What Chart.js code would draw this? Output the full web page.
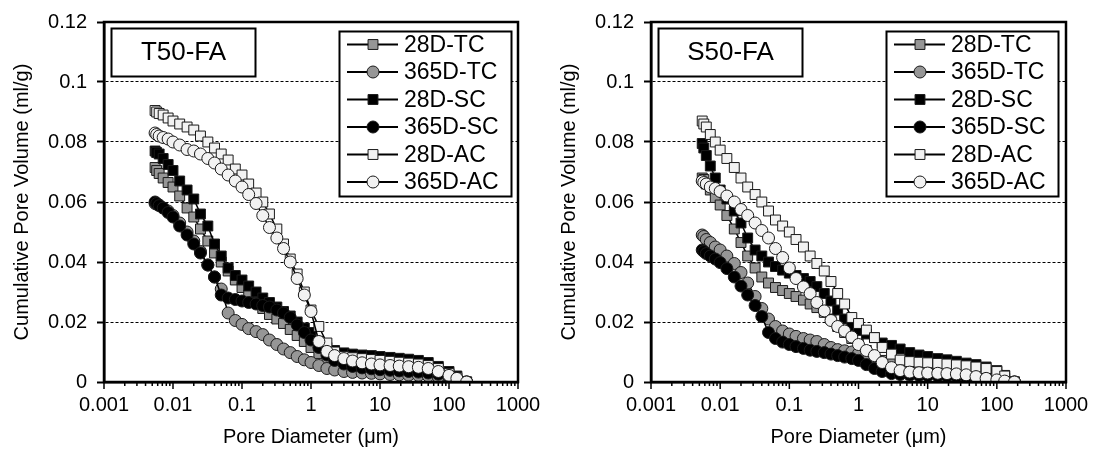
<!DOCTYPE html>
<html>
<head>
<meta charset="utf-8">
<title>Cumulative pore volume - T50-FA / S50-FA</title>
<script src="https://cdn.jsdelivr.net/npm/chart.js@4/dist/chart.umd.min.js"></script>
<style>
  html, body { margin: 0; padding: 0; background: #fff; }
  #wrap { display: flex; width: 1095px; height: 454px; }
  canvas { display: block; }
</style>
</head>
<body>
<div id="wrap">
  <canvas id="left" width="547" height="454"></canvas>
  <canvas id="right" width="548" height="454"></canvas>
</div>
<script>
// pore diameters (um), shared by every curve
const DIAMETERS = [0.0055, 0.0058, 0.0063, 0.0072, 0.0085, 0.01, 0.0125, 0.016, 0.02, 0.025,
  0.032, 0.04, 0.05, 0.063, 0.08, 0.1, 0.125, 0.16, 0.2, 0.25,
  0.32, 0.4, 0.5, 0.63, 0.8, 1.0, 1.3, 1.7, 2.2, 3,
  4, 5.5, 7.5, 10, 14, 19, 26, 36, 50, 70,
  100, 130, 180];

const SERIES_NAMES = ['28D-TC', '365D-TC', '28D-SC', '365D-SC', '28D-AC', '365D-AC'];
const PANEL_TITLES = ['T50-FA', 'S50-FA'];

// T50-FA, cumulative pore volume (ml/g)
const T50_28D_TC = [0.0715, 0.0705, 0.0695, 0.068, 0.0665, 0.065, 0.062, 0.058, 0.055, 0.051,
  0.047, 0.043, 0.040, 0.037, 0.034, 0.0315, 0.029, 0.0265, 0.0245, 0.0225,
  0.021, 0.0195, 0.0175, 0.0155, 0.0135, 0.0115, 0.0095, 0.0078, 0.0066, 0.0058,
  0.0053, 0.005, 0.0048, 0.0046, 0.0044, 0.0042, 0.004, 0.0038, 0.0035, 0.003,
  0.002, 0.0012, 0];
const T50_365D_TC = [0.0595, 0.0593, 0.059, 0.058, 0.057, 0.0555, 0.053, 0.050, 0.047, 0.0435,
  0.039, 0.035, 0.031, 0.023, 0.0205, 0.0192, 0.0178, 0.0168, 0.0158, 0.014,
  0.0125, 0.011, 0.0098, 0.0085, 0.0074, 0.0065, 0.0055, 0.0045, 0.004, 0.0035,
  0.0032, 0.003, 0.0029, 0.0027, 0.0025, 0.0024, 0.0023, 0.0022, 0.002, 0.0017,
  0.0013, 0.0008, 0];
const T50_28D_SC = [0.077, 0.0765, 0.076, 0.0745, 0.0725, 0.0705, 0.067, 0.064, 0.061, 0.056,
  0.052, 0.046, 0.042, 0.038, 0.0355, 0.034, 0.032, 0.030, 0.028, 0.0265,
  0.025, 0.0235, 0.022, 0.020, 0.018, 0.0165, 0.0135, 0.0115, 0.0105, 0.0097,
  0.0093, 0.009, 0.0088, 0.0085, 0.0082, 0.0079, 0.0076, 0.0072, 0.0065, 0.0052,
  0.0035, 0.002, 0];
const T50_365D_SC = [0.060, 0.0595, 0.0588, 0.058, 0.0565, 0.055, 0.052, 0.049, 0.046, 0.043,
  0.039, 0.035, 0.029, 0.028, 0.0275, 0.027, 0.0265, 0.026, 0.0255, 0.025,
  0.024, 0.023, 0.0215, 0.019, 0.0165, 0.014, 0.0115, 0.009, 0.0072, 0.006,
  0.0052, 0.0047, 0.0044, 0.0041, 0.0039, 0.0037, 0.0035, 0.0033, 0.003, 0.0026,
  0.0018, 0.001, 0];
const T50_28D_AC = [0.0905, 0.090, 0.0895, 0.089, 0.088, 0.087, 0.086, 0.085, 0.084, 0.082,
  0.080, 0.078, 0.076, 0.074, 0.071, 0.069, 0.066, 0.063, 0.060, 0.056,
  0.051, 0.046, 0.041, 0.036, 0.030, 0.024, 0.0185, 0.013, 0.010, 0.0085,
  0.0081, 0.0078, 0.0075, 0.0072, 0.0069, 0.0066, 0.0063, 0.006, 0.0055, 0.0045,
  0.0028, 0.0015, 0];
const T50_365D_AC = [0.083, 0.0825, 0.082, 0.0815, 0.081, 0.080, 0.079, 0.0775, 0.077, 0.076,
  0.0745, 0.073, 0.071, 0.069, 0.067, 0.065, 0.0625, 0.0595, 0.0555, 0.0515,
  0.048, 0.0445, 0.040, 0.0345, 0.029, 0.0235, 0.0135, 0.0102, 0.0088, 0.0078,
  0.007, 0.0064, 0.006, 0.0057, 0.0055, 0.0053, 0.0051, 0.0049, 0.0045, 0.0035,
  0.0022, 0.0012, 0];

// S50-FA, cumulative pore volume (ml/g)
const S50_28D_TC = [0.068, 0.0675, 0.066, 0.064, 0.0615, 0.059, 0.0555, 0.051, 0.0465, 0.042,
  0.038, 0.035, 0.033, 0.0315, 0.0305, 0.0295, 0.0285, 0.0273, 0.026, 0.0248,
  0.0232, 0.021, 0.0185, 0.0165, 0.0145, 0.0125, 0.0105, 0.0088, 0.0072, 0.0062,
  0.0058, 0.0055, 0.0053, 0.0051, 0.0049, 0.0047, 0.0045, 0.0042, 0.0038, 0.0032,
  0.0025, 0.0013, 0];
const S50_365D_TC = [0.049, 0.0485, 0.0475, 0.0465, 0.045, 0.044, 0.042, 0.0395, 0.0365, 0.033,
  0.0285, 0.0245, 0.021, 0.0185, 0.017, 0.016, 0.0152, 0.0145, 0.014, 0.0135,
  0.0125, 0.0115, 0.0108, 0.0104, 0.010, 0.0095, 0.0085, 0.0068, 0.0055, 0.0042,
  0.0034, 0.003, 0.0028, 0.0026, 0.0025, 0.0024, 0.0023, 0.0022, 0.002, 0.0017,
  0.0012, 0.0006, 0];
const S50_28D_SC = [0.0795, 0.078, 0.0755, 0.072, 0.068, 0.064, 0.061, 0.057, 0.053, 0.048,
  0.044, 0.042, 0.040, 0.0385, 0.0373, 0.0363, 0.0355, 0.0345, 0.0335, 0.0318,
  0.0295, 0.027, 0.024, 0.021, 0.0188, 0.0172, 0.016, 0.0148, 0.013, 0.0122,
  0.011, 0.0098, 0.009, 0.0085, 0.0078, 0.0074, 0.0069, 0.0063, 0.0058, 0.005,
  0.0038, 0.0022, 0];
const S50_365D_SC = [0.044, 0.0435, 0.0428, 0.042, 0.041, 0.0398, 0.0378, 0.035, 0.032, 0.029,
  0.0255, 0.0218, 0.0165, 0.0145, 0.0133, 0.0125, 0.0118, 0.0112, 0.0106, 0.0102,
  0.0098, 0.0093, 0.0088, 0.0083, 0.0078, 0.0072, 0.0058, 0.0045, 0.0035, 0.0028,
  0.0025, 0.0023, 0.0022, 0.0021, 0.002, 0.0019, 0.0018, 0.0017, 0.0015, 0.0012,
  0.0009, 0.0005, 0];
const S50_28D_AC = [0.087, 0.086, 0.085, 0.0825, 0.080, 0.0773, 0.0745, 0.0715, 0.068, 0.065,
  0.0625, 0.060, 0.057, 0.054, 0.052, 0.050, 0.0475, 0.045, 0.042, 0.0395,
  0.037, 0.0335, 0.0295, 0.026, 0.0215, 0.0195, 0.0173, 0.0148, 0.0115, 0.0093,
  0.0073, 0.0068, 0.0066, 0.0064, 0.0062, 0.006, 0.0057, 0.0054, 0.005, 0.0045,
  0.0035, 0.002, 0];
const S50_365D_AC = [0.067, 0.0665, 0.066, 0.065, 0.0645, 0.0635, 0.062, 0.060, 0.0575, 0.0555,
  0.053, 0.0505, 0.048, 0.0445, 0.0415, 0.038, 0.0345, 0.0317, 0.0295, 0.0265,
  0.0237, 0.0205, 0.0185, 0.017, 0.015, 0.0125, 0.0105, 0.0088, 0.0065, 0.0048,
  0.0038, 0.0033, 0.0031, 0.003, 0.0029, 0.0028, 0.0027, 0.0024, 0.0018, 0.0012,
  0.0007, 0.0003, 0];

// axis ticks
const X_TICK_VALUES = [0.001, 0.01, 0.1, 1, 10, 100, 1000];
const X_TICK_LABELS = ['0.001', '0.01', '0.1', '1', '10', '100', '1000'];
const Y_TICK_VALUES = [0, 0.02, 0.04, 0.06, 0.08, 0.1, 0.12];
const Y_TICK_LABELS = ['0', '0.02', '0.04', '0.06', '0.08', '0.1', '0.12'];

const FONT = '"Liberation Sans", Arial, sans-serif';

// marker look per series (same order as SERIES_NAMES)
const ESTILOS = [
  { shape: 'rect',   fill: '#969696' },
  { shape: 'circle', fill: '#969696' },
  { shape: 'rect',   fill: '#000000' },
  { shape: 'circle', fill: '#000000' },
  { shape: 'rect',   fill: '#f2f2f2' },
  { shape: 'circle', fill: '#f2f2f2' }
];

function radioDe(shape) {
  return shape === 'rect' ? 7 : 6;
}

// log ticks: 1..9 in each decade, labels only on the powers of ten
function ticksLog() {
  const out = [];
  for (let i = 0; i < X_TICK_VALUES.length - 1; i++) {
    for (let k = 1; k <= 9; k++) out.push(k * X_TICK_VALUES[i]);
  }
  out.push(X_TICK_VALUES[X_TICK_VALUES.length - 1]);
  return out;
}

function dibujarMarcador(ctx, shape, fill, x, y) {
  const r = radioDe(shape);
  ctx.fillStyle = fill;
  ctx.strokeStyle = '#1a1a1a';
  ctx.lineWidth = 1;
  ctx.beginPath();
  if (shape === 'rect') {
    const s = Math.SQRT1_2 * r;
    ctx.rect(x - s, y - s, 2 * s, 2 * s);
  } else {
    ctx.arc(x, y, r, 0, Math.PI * 2);
  }
  ctx.fill();
  ctx.stroke();
}

// frame, minor/major x ticks, panel label and legend box
const decoracion = {
  id: 'decoracion',
  afterDraw(chart, args, opts) {
    const { ctx, chartArea: a, scales: { x } } = chart;
    ctx.save();

    // x ticks
    ctx.strokeStyle = '#000';
    ctx.lineWidth = 1.5;
    x.ticks.forEach(t => {
      const lg = Math.log10(t.value);
      const mayor = Math.abs(lg - Math.round(lg)) < 1e-6;
      const px = x.getPixelForValue(t.value);
      ctx.beginPath();
      ctx.moveTo(px, a.bottom);
      ctx.lineTo(px, a.bottom + (mayor ? 7 : 4));
      ctx.stroke();
    });

    // plot frame
    ctx.lineWidth = 2.5;
    ctx.strokeRect(a.left, a.top, a.right - a.left, a.bottom - a.top);

    // panel title box
    ctx.lineWidth = 2;
    ctx.fillStyle = '#fff';
    ctx.fillRect(111.5, 28.5, 144, 48);
    ctx.strokeRect(111.5, 28.5, 144, 48);
    ctx.fillStyle = '#000';
    ctx.font = '26px ' + FONT;
    ctx.textAlign = 'center';
    ctx.textBaseline = 'middle';
    ctx.fillText(opts.titulo, 183.5, 53);

    // legend
    ctx.fillStyle = '#fff';
    ctx.fillRect(339.5, 31.5, 172, 165);
    ctx.strokeRect(339.5, 31.5, 172, 165);
    ctx.font = '23px ' + FONT;
    ctx.textAlign = 'left';
    SERIES_NAMES.forEach((nombre, i) => {
      const y = 44.5 + i * 27.5;
      ctx.strokeStyle = '#000';
      ctx.lineWidth = 2;
      ctx.beginPath();
      ctx.moveTo(347, y);
      ctx.lineTo(398, y);
      ctx.stroke();
      dibujarMarcador(ctx, ESTILOS[i].shape, ESTILOS[i].fill, 373, y);
      ctx.fillStyle = '#000';
      ctx.fillText(nombre, 404, y + 1);
    });

    ctx.restore();
  }
};

function crearGrafico(id, titulo, series) {
  const ctx = document.getElementById(id).getContext('2d');
  const datasets = series.map((valores, i) => ({
    label: SERIES_NAMES[i],
    data: DIAMETERS.map((d, j) => ({ x: d, y: valores[j] })),
    borderColor: '#000',
    borderWidth: 1.5,
    pointStyle: ESTILOS[i].shape,
    pointRadius: radioDe(ESTILOS[i].shape),
    pointBackgroundColor: ESTILOS[i].fill,
    pointBorderColor: '#1a1a1a',
    pointBorderWidth: 1,
    tension: 0,
    order: series.length - 1 - i // last series on top, like the original
  }));

  return new Chart(ctx, {
    type: 'line',
    data: { datasets },
    plugins: [decoracion],
    options: {
      responsive: false,
      animation: false,
      devicePixelRatio: 1,
      layout: { padding: { top: 22, right: 29, left: 0, bottom: 0 } },
      plugins: {
        legend: { display: false },
        tooltip: { enabled: false },
        decoracion: { titulo }
      },
      scales: {
        x: {
          type: 'logarithmic',
          min: 0.001,
          max: 1000,
          afterBuildTicks: scale => { scale.ticks = ticksLog().map(v => ({ value: v })); },
          afterFit: scale => { scale.height = 72; },
          ticks: {
            autoSkip: false,
            maxRotation: 0,
            minRotation: 0,
            padding: 4,
            color: '#000',
            font: { family: FONT, size: 20 },
            callback: v => {
              const k = X_TICK_VALUES.findIndex(t => Math.abs(t - v) < t * 1e-6);
              return k >= 0 ? X_TICK_LABELS[k] : '';
            }
          },
          grid: { display: true, drawOnChartArea: false, tickLength: 7, tickColor: 'rgba(0,0,0,0)' },
          border: { display: true, color: '#000', width: 2.5 },
          title: {
            display: true,
            text: 'Pore Diameter (μm)',
            color: '#000',
            font: { family: FONT, size: 20 },
            padding: { top: 0, bottom: 5 }
          }
        },
        y: {
          min: 0,
          max: 0.12,
          afterBuildTicks: scale => { scale.ticks = Y_TICK_VALUES.map(v => ({ value: v })); },
          afterFit: scale => { scale.width = 104; },
          ticks: {
            padding: 10,
            color: '#000',
            font: { family: FONT, size: 20 },
            callback: (v, i) => Y_TICK_LABELS[i]
          },
          grid: {
            color: '#000',
            lineWidth: 1,
            tickLength: 7,
            tickWidth: 2,
            tickColor: '#000',
            tickBorderDash: []
          },
          border: { display: true, color: '#000', width: 2.5, dash: [3, 2] },
          title: {
            display: true,
            text: 'Cumulative Pore Volume (ml/g)',
            color: '#000',
            font: { family: FONT, size: 20 },
            padding: { top: 10, bottom: 0 }
          }
        }
      }
    }
  });
}

crearGrafico('left', PANEL_TITLES[0],
  [T50_28D_TC, T50_365D_TC, T50_28D_SC, T50_365D_SC, T50_28D_AC, T50_365D_AC]);
crearGrafico('right', PANEL_TITLES[1],
  [S50_28D_TC, S50_365D_TC, S50_28D_SC, S50_365D_SC, S50_28D_AC, S50_365D_AC]);
</script>
</body>
</html>
